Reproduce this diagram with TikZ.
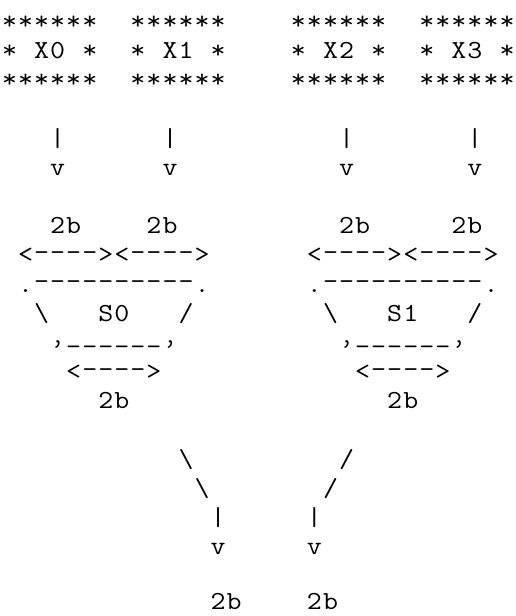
\documentclass[tikz,border=0pt]{standalone}
\usepackage{graphicx}
\newcommand\asciifont{\fontsize{26pt}{29.2pt}\selectfont\ttfamily}
\newcommand\ascii[1]{\asciiloop#1\relax}
\def\asciiloop#1{\ifx\relax#1\else\makebox[16.05pt][c]{\scalebox{1.12}[1]{#1}}\expandafter\asciiloop\fi}
\newcommand\bs{\textbackslash}
\newcommand\qr{\raisebox{-6pt}[0pt][0pt]{\textquoteright}}
\newcommand\hy{\raisebox{2.5pt}[0pt][0pt]{-}}
\newcommand\us{\raisebox{7.5pt}[0pt][0pt]{\_}}
\tikzset{
  asc/.style={inner sep=0pt, outer sep=0pt, anchor=base west, font=\asciifont}
}
\begin{document}
\begin{tikzpicture}
\useasboundingbox (0pt,0pt) rectangle (516pt,-616pt);
\begin{scope}[x=16.05pt, y=-29.2pt, shift={(1.5pt,0pt)}]
% input boxes
\node[asc] (x0t) at (0,1) {\ascii{******}};
\node[asc] (x1t) at (8,1) {\ascii{******}};
\node[asc] (x2t) at (18,1) {\ascii{******}};
\node[asc] (x3t) at (26,1) {\ascii{******}};
\node[asc] (x0) at (0,2) {\ascii{*~X0~*}};
\node[asc] (x1) at (8,2) {\ascii{*~X1~*}};
\node[asc] (x2) at (18,2) {\ascii{*~X2~*}};
\node[asc] (x3) at (26,2) {\ascii{*~X3~*}};
\node[asc] (x0b) at (0,3) {\ascii{******}};
\node[asc] (x1b) at (8,3) {\ascii{******}};
\node[asc] (x2b) at (18,3) {\ascii{******}};
\node[asc] (x3b) at (26,3) {\ascii{******}};
% input arrows
\node[asc] (a0) at (3,5) {\ascii{|}};
\node[asc] (a1) at (10,5) {\ascii{|}};
\node[asc] (a2) at (21,5) {\ascii{|}};
\node[asc] (a3) at (29,5) {\ascii{|}};
\node[asc] (h0) at (3,6) {\ascii{v}};
\node[asc] (h1) at (10,6) {\ascii{v}};
\node[asc] (h2) at (21,6) {\ascii{v}};
\node[asc] (h3) at (29,6) {\ascii{v}};
% S0
\node[asc] (s0la) at (3,8) {\ascii{2b}};
\node[asc] (s0lb) at (9,8) {\ascii{2b}};
\node[asc] (s0wa) at (1,9) {\ascii{<\hy\hy\hy\hy>}};
\node[asc] (s0wb) at (7,9) {\ascii{<\hy\hy\hy\hy>}};
\node[asc] (s0top) at (1,10) {\ascii{.\hy\hy\hy\hy\hy\hy\hy\hy\hy\hy.}};
\node[asc] (s0l) at (2,11) {\ascii{\bs}};
\node[asc] (s0) at (6,11) {\ascii{S0}};
\node[asc] (s0r) at (11,11) {\ascii{/}};
\node[asc] (s0bot) at (3,12) {\ascii{\qr\us\us\us\us\us\us\qr}};
\node[asc] (s0wo) at (4,13) {\ascii{<\hy\hy\hy\hy>}};
\node[asc] (s0lo) at (6,14) {\ascii{2b}};
% S1
\node[asc] (s1la) at (21,8) {\ascii{2b}};
\node[asc] (s1lb) at (28,8) {\ascii{2b}};
\node[asc] (s1wa) at (19,9) {\ascii{<\hy\hy\hy\hy>}};
\node[asc] (s1wb) at (25,9) {\ascii{<\hy\hy\hy\hy>}};
\node[asc] (s1top) at (19,10) {\ascii{.\hy\hy\hy\hy\hy\hy\hy\hy\hy\hy.}};
\node[asc] (s1l) at (20,11) {\ascii{\bs}};
\node[asc] (s1) at (24,11) {\ascii{S1}};
\node[asc] (s1r) at (29,11) {\ascii{/}};
\node[asc] (s1bot) at (21,12) {\ascii{\qr\us\us\us\us\us\us\qr}};
\node[asc] (s1wo) at (22,13) {\ascii{<\hy\hy\hy\hy>}};
\node[asc] (s1lo) at (24,14) {\ascii{2b}};
% output arrows
\node[asc] (d0a) at (11,16) {\ascii{\bs}};
\node[asc] (d1a) at (21,16) {\ascii{/}};
\node[asc] (d0b) at (12,17) {\ascii{\bs}};
\node[asc] (d1b) at (20,17) {\ascii{/}};
\node[asc] (d0c) at (13,18) {\ascii{|}};
\node[asc] (d1c) at (19,18) {\ascii{|}};
\node[asc] (d0h) at (13,19) {\ascii{v}};
\node[asc] (d1h) at (19,19) {\ascii{v}};
\node[asc] (o0) at (13,20.88) {\ascii{2b}};
\node[asc] (o1) at (19,20.88) {\ascii{2b}};
\end{scope}
\end{tikzpicture}
\end{document}
